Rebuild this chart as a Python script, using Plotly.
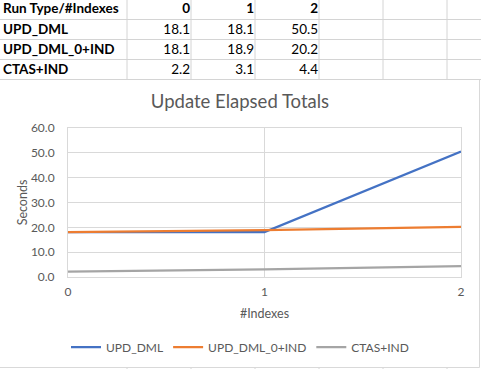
import plotly.graph_objects as go

# ---- data ----
categories = [0, 1, 2]
header_label = "Run Type/#Indexes"
series_names = ["UPD_DML", "UPD_DML_0+IND", "CTAS+IND"]
upd_dml = [18.1, 18.1, 50.5]
upd_dml_0_ind = [18.1, 18.9, 20.2]
ctas_ind = [2.2, 3.1, 4.4]
y_ticks = [0, 10, 20, 30, 40, 50, 60]
chart_title = "Update Elapsed Totals"
x_title = "#Indexes"
y_title = "Seconds"

series_values = [upd_dml, upd_dml_0_ind, ctas_ind]
colors = ["#4472C4", "#ED7D31", "#A5A5A5"]

# ---- layout (pixels) ----
W, H = 481, 369
L, R, T, B = 68, 461, 128, 277
FONT = "Lato, Carlito, Calibri, sans-serif"
GRID = "#D9D9D9"
CELL = "#D4D4D4"
TXT = "#595959"
TS = 13.5
row_centers = [10, 31, 51, 71]
col_right = [190, 254, 318]
col_lines = [127, 191, 255, 319, 383, 447]
row_lines = [19.5, 39.5, 59.5, 79.5]

fig = go.Figure()

# chart series on the main axes
for name, vals, col in zip(series_names, series_values, colors):
    fig.add_trace(go.Scatter(x=categories, y=vals, mode="lines", name=name,
                             line=dict(color=col, width=2.25),
                             xaxis="x", yaxis="y"))

# spreadsheet table text on a pixel overlay axis (x2/y2)
lab_x, lab_y, lab_t = [], [], []
num_x, num_y, num_t = [], [], []
lab_x.append(3); lab_y.append(row_centers[0]); lab_t.append("<b>%s</b>" % header_label)
for c, xr in zip(categories, col_right):
    num_x.append(xr); num_y.append(row_centers[0]); num_t.append("<b>%d</b>" % c)
for name, vals, yc in zip(series_names, series_values, row_centers[1:]):
    lab_x.append(3); lab_y.append(yc); lab_t.append("<b>%s</b>" % name)
    for v, xr in zip(vals, col_right):
        num_x.append(xr); num_y.append(yc)
        num_t.append("<span style='font-weight:normal'>%.1f</span>" % v)

fig.add_trace(go.Scatter(x=lab_x, y=lab_y, text=lab_t, mode="text",
                         textposition="middle right", showlegend=False,
                         hoverinfo="skip", cliponaxis=False,
                         textfont=dict(family=FONT, size=TS, color="#000000"),
                         xaxis="x2", yaxis="y2"))
fig.add_trace(go.Scatter(x=num_x, y=num_y, text=num_t, mode="text",
                         textposition="middle left", showlegend=False,
                         hoverinfo="skip", cliponaxis=False,
                         textfont=dict(family=FONT, size=TS, color="#000000"),
                         xaxis="x2", yaxis="y2"))

shapes = []
for yl in row_lines:
    shapes.append(dict(type="line", xref="x2", yref="y2", x0=0, x1=W, y0=yl, y1=yl,
                       line=dict(color=CELL, width=1), layer="below"))
for xl in col_lines:
    shapes.append(dict(type="line", xref="x2", yref="y2", x0=xl, x1=xl, y0=0, y1=79.5,
                       line=dict(color=CELL, width=1), layer="below"))
    shapes.append(dict(type="line", xref="x2", yref="y2", x0=xl, x1=xl, y0=367.5, y1=H,
                       line=dict(color=CELL, width=1), layer="below"))
# chart object border
shapes.append(dict(type="line", xref="x2", yref="y2", x0=479.5, x1=479.5, y0=80, y1=367.5,
                   line=dict(color=GRID, width=1), layer="below"))
shapes.append(dict(type="line", xref="x2", yref="y2", x0=0, x1=479.5, y0=367.5, y1=367.5,
                   line=dict(color=GRID, width=1), layer="below"))

fig.update_layout(
    width=W, height=H,
    margin=dict(l=0, r=0, t=0, b=0, pad=0, autoexpand=False),
    paper_bgcolor="white", plot_bgcolor="rgba(0,0,0,0)",
    font=dict(family=FONT, size=12, color=TXT),
    title=dict(text=chart_title, x=240 / W, xanchor="center",
               y=1 - 102 / H, yanchor="middle", xref="paper", yref="paper",
               font=dict(family=FONT, size=18.5, color=TXT)),
    showlegend=True,
    legend=dict(orientation="h", x=240 / W, xanchor="center",
                y=1 - 347 / H, yanchor="middle",
                font=dict(family=FONT, size=12, color=TXT),
                bgcolor="rgba(0,0,0,0)", itemwidth=30),
    shapes=shapes,
    xaxis=dict(domain=[L / W, R / W], anchor="y",
               range=[0, 2], tickvals=categories, ticktext=[str(c) for c in categories],
               showgrid=True, gridcolor=GRID, gridwidth=1,
               showline=True, linecolor=GRID, linewidth=1, mirror=True,
               zeroline=False, ticks="", ticklabelstandoff=4,
               tickfont=dict(family=FONT, size=12, color=TXT),
               title=dict(text=x_title, standoff=10,
                          font=dict(family=FONT, size=12.5, color=TXT))),
    yaxis=dict(domain=[1 - B / H, 1 - T / H], anchor="x",
               range=[0, 60], tickvals=y_ticks, tickformat=".1f",
               showgrid=True, gridcolor=GRID, gridwidth=1,
               showline=True, linecolor=GRID, linewidth=1, mirror=True,
               zeroline=False, ticks="", ticklabelstandoff=10,
               tickfont=dict(family=FONT, size=12, color=TXT),
               title=dict(text=y_title, standoff=0,
                          font=dict(family=FONT, size=12.5, color=TXT))),
    xaxis2=dict(domain=[0, 1], anchor="y2", range=[0, W], visible=False,
                fixedrange=True),
    yaxis2=dict(domain=[0, 1], anchor="x2", range=[H, 0], visible=False,
                fixedrange=True),
)

fig.write_html("out.html", config={"displayModeBar": False},
               post_script="document.body.style.margin='0';")
